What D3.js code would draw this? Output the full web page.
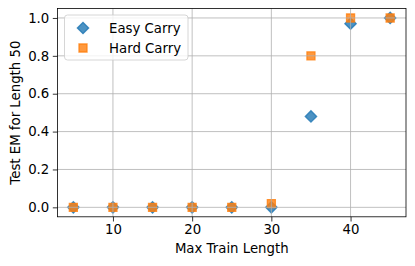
<!DOCTYPE html>
<html><head><meta charset="utf-8">
<script src="https://cdn.jsdelivr.net/npm/d3@7"></script>
<style>body{margin:0;background:#fff}svg{display:block}text{font-family:"DejaVu Sans",sans-serif;fill:#000}</style>
</head><body><svg id="c" width="415" height="266"></svg>
<script>
const trainLengths = [5, 10, 15, 20, 25, 30, 35, 40, 45];
const easyCarry = [0, 0, 0, 0, 0, 0, 0.48, 0.97, 1.0];
const hardCarry = [0, 0, 0, 0, 0, 0.02, 0.8, 1.0, 1.0];
const xTicks = [10, 20, 30, 40];
const yTicks = [0, 0.2, 0.4, 0.6, 0.8, 1.0];
const seriesNames = ["Easy Carry", "Hard Carry"];
const colors = ["#1f77b4", "#ff7f0e"];

const svg = d3.select("#c");
const L = 57.5, R = 406, T = 8.5, B = 216.8;
const x = d3.scaleLinear().domain([3, 47]).range([L, R]);
const y = d3.scaleLinear().domain([-0.05, 1.05]).range([B, T]);
const fs = 13.3;

// markers
const sym = d3.symbol().type(d3.symbolSquare).size(64);
const series = [easyCarry, hardCarry];
series.forEach((vals, si) => {
  svg.append("g").selectAll("path").data(vals).join("path")
    .attr("d", sym)
    .attr("transform", (d, i) => `translate(${x(trainLengths[i])},${y(d)})` + (si === 0 ? " rotate(45)" : ""))
    .attr("fill", colors[si]).attr("fill-opacity", 0.8)
    .attr("stroke", colors[si]).attr("stroke-opacity", 0.8).attr("stroke-width", 1.33);
});

// grid on top
const grid = svg.append("g").attr("stroke", "#b0b0b0").attr("stroke-width", 0.8);
xTicks.forEach(t => grid.append("line").attr("x1", x(t)).attr("x2", x(t)).attr("y1", T).attr("y2", B));
yTicks.forEach(t => grid.append("line").attr("x1", L).attr("x2", R).attr("y1", y(t)).attr("y2", y(t)));

// axes
const xAxis = d3.axisBottom(x).tickValues(xTicks).tickSize(4.7).tickPadding(3.5).tickFormat(d3.format("d"));
const yAxis = d3.axisLeft(y).tickValues(yTicks).tickSize(4.7).tickPadding(3.5).tickFormat(d3.format(".1f"));
const gx = svg.append("g").attr("transform", `translate(0,${B})`).call(xAxis);
const gy = svg.append("g").attr("transform", `translate(${L},0)`).call(yAxis);
[gx, gy].forEach(g => {
  g.select(".domain").remove();
  g.selectAll("line").attr("stroke", "#000").attr("stroke-width", 0.8);
  g.selectAll("text").attr("font-size", fs).attr("font-family", "DejaVu Sans");
});
svg.append("rect").attr("x", L).attr("y", T).attr("width", R - L).attr("height", B - T)
  .attr("fill", "none").attr("stroke", "#000").attr("stroke-width", 0.8);

// labels
svg.append("text").attr("x", (L + R) / 2).attr("y", 253.3).attr("text-anchor", "middle")
  .attr("font-size", fs).text("Max Train Length");
svg.append("text").attr("transform", `translate(19.5,${(T + B) / 2}) rotate(-90)`).attr("text-anchor", "middle")
  .attr("font-size", fs).text("Test EM for Length 50");

// legend
const lg = svg.append("g");
lg.append("rect").attr("x", 64.5).attr("y", 15).attr("width", 123.5).attr("height", 45).attr("rx", 3)
  .attr("fill", "#fff").attr("fill-opacity", 0.8).attr("stroke", "#cccccc").attr("stroke-width", 0.8);
seriesNames.forEach((n, i) => {
  const cy = 28 + i * 20;
  lg.append("path").attr("d", sym).attr("transform", `translate(83,${cy})` + (i === 0 ? " rotate(45)" : ""))
    .attr("fill", colors[i]).attr("fill-opacity", 0.8)
    .attr("stroke", colors[i]).attr("stroke-opacity", 0.8).attr("stroke-width", 1.33);
  lg.append("text").attr("x", 109).attr("y", cy + 4.8).attr("font-size", fs).text(n);
});
</script></body></html>
